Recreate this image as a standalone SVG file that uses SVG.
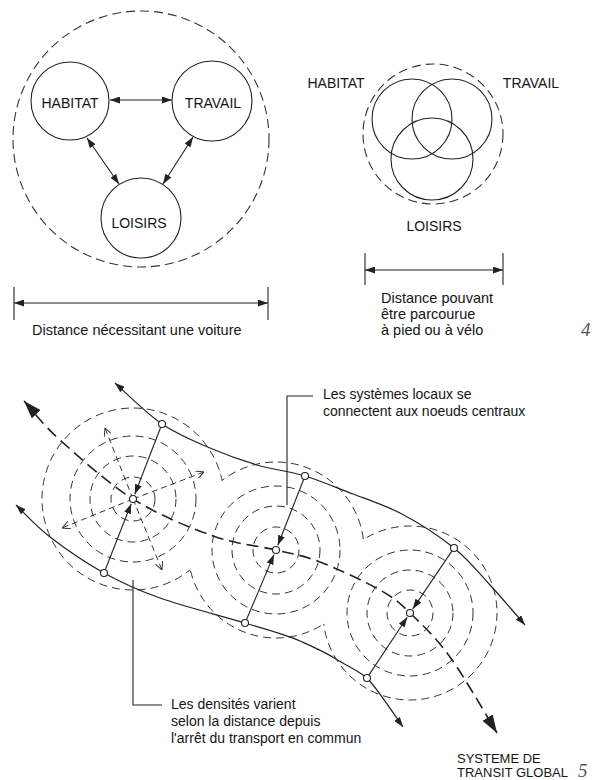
<svg xmlns="http://www.w3.org/2000/svg" width="594" height="780" viewBox="0 0 594 780">
<style>
  .bg { fill: #ffffff; }
  .txt { font-family: "Liberation Sans", Arial, sans-serif; font-size: 14px; fill: #151515; }
  .txt2 { font-family: "Liberation Sans", Arial, sans-serif; font-size: 14.5px; fill: #151515; }
  .txt3 { font-family: "Liberation Sans", Arial, sans-serif; font-size: 13px; fill: #151515; }
  .lbl { font-family: "Liberation Sans", Arial, sans-serif; font-size: 14px; fill: #151515; text-anchor: middle; }
  .num { font-family: "Liberation Serif", "Times New Roman", serif; font-style: italic; font-size: 19px; fill: #555; }
  .node { fill: #fff; stroke: #222; stroke-width: 1.1; }
  .dashc { fill: none; stroke: #333; stroke-width: 1.1; stroke-dasharray: 9 5; }
  .ring { fill: none; stroke: #333; stroke-width: 1; stroke-dasharray: 8 5; }
  .line { fill: none; stroke: #222; stroke-width: 1.1; }
  .curve { fill: none; stroke: #222; stroke-width: 1.2; }
  .transit { fill: none; stroke: #222; stroke-width: 1.6; stroke-dasharray: 12 6; }
  .radial { fill: none; stroke: #333; stroke-width: 1; stroke-dasharray: 6 4; }
  .stop { fill: #fff; stroke: #222; stroke-width: 1.1; }
</style>
<defs>
  <marker id="ah" viewBox="0 0 10 7" refX="10" refY="3.5" markerWidth="10" markerHeight="7" markerUnits="userSpaceOnUse" orient="auto-start-reverse">
    <path d="M0,0 L10,3.5 L0,7 z" fill="#222"/>
  </marker>
  <marker id="ahBig" viewBox="0 0 18 12" refX="18" refY="6" markerWidth="18" markerHeight="12" markerUnits="userSpaceOnUse" orient="auto-start-reverse">
    <path d="M0,0 L18,6 L0,12 z" fill="#222"/>
  </marker>
  <marker id="ahOpen" viewBox="0 0 8 8" refX="8" refY="4" markerWidth="8" markerHeight="8" markerUnits="userSpaceOnUse" orient="auto">
    <path d="M0,0 L8,4 L0,8" fill="none" stroke="#333" stroke-width="1"/>
  </marker>
  <mask id="m1" maskUnits="userSpaceOnUse" x="0" y="0" width="594" height="780">
    <rect x="0" y="0" width="594" height="780" fill="#fff"/>
    <circle cx="276" cy="550" r="88" fill="#000"/>
  </mask>
  <mask id="m2" maskUnits="userSpaceOnUse" x="0" y="0" width="594" height="780">
    <rect x="0" y="0" width="594" height="780" fill="#fff"/>
    <circle cx="133" cy="499" r="91" fill="#000"/>
    <circle cx="410" cy="613" r="87" fill="#000"/>
  </mask>
  <mask id="m3" maskUnits="userSpaceOnUse" x="0" y="0" width="594" height="780">
    <rect x="0" y="0" width="594" height="780" fill="#fff"/>
    <circle cx="276" cy="550" r="88" fill="#000"/>
  </mask>
</defs>
<rect class="bg" x="0" y="0" width="594" height="780"/>

<!-- ===== Figure 4, left: car-dependent ===== -->
<g id="fig4-left">
  <circle id="zone-voiture" class="dashc" cx="141" cy="139" r="128"/>
  <g id="habitat-l"><circle class="node" cx="70" cy="101" r="39"/><text class="lbl" x="70" y="108">HABITAT</text></g>
  <g id="travail-l"><circle class="node" cx="212" cy="101" r="40"/><text class="lbl" x="213" y="108">TRAVAIL</text></g>
  <g id="loisirs-l"><circle class="node" cx="141" cy="218" r="40"/><text class="lbl" x="139" y="228">LOISIRS</text></g>
  <g id="connectors-left">
    <line class="line" x1="110" y1="100" x2="172" y2="100" marker-start="url(#ah)" marker-end="url(#ah)"/>
    <line class="line" x1="87" y1="138" x2="119" y2="184" marker-start="url(#ah)" marker-end="url(#ah)"/>
    <line class="line" x1="193" y1="137" x2="163" y2="184" marker-start="url(#ah)" marker-end="url(#ah)"/>
  </g>
  <g id="dim-voiture">
    <line class="line" x1="14" y1="287" x2="14" y2="320"/>
    <line class="line" x1="268" y1="287" x2="268" y2="320"/>
    <line class="line" x1="14" y1="303" x2="268" y2="303" marker-start="url(#ah)" marker-end="url(#ah)"/>
    <text class="txt2" x="32" y="335">Distance nécessitant une voiture</text>
  </g>
</g>

<!-- ===== Figure 4, right: walkable ===== -->
<g id="fig4-right">
  <circle id="zone-pied" class="dashc" cx="433" cy="134" r="70"/>
  <g id="habitat-r"><circle class="line" cx="412" cy="119" r="40"/><text class="lbl" x="336" y="88">HABITAT</text></g>
  <g id="travail-r"><circle class="line" cx="452" cy="119" r="40"/><text class="lbl" x="531" y="88">TRAVAIL</text></g>
  <g id="loisirs-r"><circle class="line" cx="432" cy="159" r="41"/><text class="lbl" x="434" y="231">LOISIRS</text></g>
  <g id="dim-pied">
    <line class="line" x1="365" y1="253" x2="365" y2="285"/>
    <line class="line" x1="503" y1="253" x2="503" y2="285"/>
    <line class="line" x1="365" y1="270" x2="503" y2="270" marker-start="url(#ah)" marker-end="url(#ah)"/>
    <text class="txt2" x="381" y="303">Distance pouvant</text>
    <text class="txt2" x="381" y="319">être parcourue</text>
    <text class="txt2" x="381" y="335">à pied ou à vélo</text>
  </g>
  <text class="num" x="581" y="336">4</text>
</g>

<!-- ===== Figure 5 ===== -->
<g id="fig5">
  <g id="pole1">
    <circle class="ring" cx="133" cy="499" r="91" mask="url(#m1)"/>
    <circle class="ring" cx="133" cy="499" r="63"/>
    <circle class="ring" cx="133" cy="499" r="43"/>
    <circle class="ring" cx="133" cy="499" r="22"/>
    <g id="radial-arrows">
      <line class="radial" x1="133" y1="499" x2="105" y2="428" marker-end="url(#ahOpen)"/>
      <line class="radial" x1="133" y1="499" x2="204" y2="472" marker-end="url(#ahOpen)"/>
      <line class="radial" x1="133" y1="499" x2="62" y2="528" marker-end="url(#ahOpen)"/>
      <line class="radial" x1="133" y1="499" x2="162" y2="570" marker-end="url(#ahOpen)"/>
    </g>
  </g>
  <g id="pole2">
    <circle class="ring" cx="276" cy="550" r="88" mask="url(#m2)"/>
    <circle class="ring" cx="276" cy="550" r="64"/>
    <circle class="ring" cx="276" cy="550" r="44"/>
    <circle class="ring" cx="276" cy="550" r="23"/>
  </g>
  <g id="pole3">
    <circle class="ring" cx="410" cy="613" r="87" mask="url(#m3)"/>
    <circle class="ring" cx="410" cy="613" r="63"/>
    <circle class="ring" cx="410" cy="613" r="43"/>
    <circle class="ring" cx="410" cy="613" r="23"/>
  </g>

  <g id="connectors">
    <path class="transit" marker-start="url(#ahBig)" marker-end="url(#ahBig)"
      d="M24,401 C30,407.5 41.8,423.7 60,440 C78.2,456.3 107.5,483 133,499 C158.5,515 189.2,527.5 213,536 C236.8,544.5 258.2,545.7 276,550 C293.8,554.3 302.7,555.3 320,562 C337.3,568.7 365,581.5 380,590 C395,598.5 398.3,601.8 410,613 C421.7,624.2 435.5,637 450,657 C464.5,677 489.2,720.3 497,733"/>
    <path class="curve" marker-start="url(#ah)" marker-end="url(#ah)"
      d="M115,383 C122.8,389.8 146.2,413.2 162,424 C177.8,434.8 194.2,441.2 210,448 C225.8,454.8 241.2,460.3 257,465 C272.8,469.7 289,471 305,476 C321,481 337.2,488 353,494 C368.8,500 384,505 400,513 C416.8,521.8 439,535.8 454,548 C469,560.2 478.2,572.2 490,585 C501.8,597.8 519.2,618.3 525,625"/>
    <path class="curve" marker-start="url(#ah)" marker-end="url(#ah)"
      d="M16,505 C21.7,510.3 35.3,525.7 50,537 C64.7,548.3 85.7,562.8 104,573 C122.3,583.2 136.5,589.7 160,598 C183.5,606.3 221.7,616 245,623 C268.3,630 285,634.3 300,641 C315,647.7 325,652 336,659 C347,666 357,670 367,678 C378.3,689.7 397,718.8 403,727"/>
    <line class="line" x1="160.7" y1="427.3" x2="134.8" y2="494.3" marker-end="url(#ah)"/>
    <line class="line" x1="105.3" y1="569.7" x2="131.2" y2="503.7" marker-end="url(#ah)"/>
    <line class="line" x1="303.7" y1="479.3" x2="277.8" y2="545.3" marker-end="url(#ah)"/>
    <line class="line" x1="246.4" y1="619.8" x2="274" y2="554.6" marker-end="url(#ah)"/>
    <line class="line" x1="452" y1="550.9" x2="412.8" y2="608.9" marker-end="url(#ah)"/>
    <line class="line" x1="368.9" y1="675.1" x2="407.2" y2="617.2" marker-end="url(#ah)"/>
    <polyline class="line" points="287,505 287,396 313,396"/>
    <polyline class="line" points="133,580 133,705 162,705"/>
  </g>

  <g id="stops">
    <circle id="stop-c1" class="stop" cx="133" cy="499" r="3.5"/>
    <circle id="stop-c2" class="stop" cx="276" cy="550" r="3.5"/>
    <circle id="stop-c3" class="stop" cx="410" cy="613" r="3.5"/>
    <circle class="stop" cx="162" cy="424" r="3.5"/>
    <circle class="stop" cx="104" cy="573" r="3.5"/>
    <circle class="stop" cx="305" cy="476" r="3.5"/>
    <circle class="stop" cx="245" cy="623" r="3.5"/>
    <circle class="stop" cx="454" cy="548" r="3.5"/>
    <circle class="stop" cx="367" cy="678" r="3.5"/>
  </g>

  <g id="label-locaux">
    <text class="txt" x="323" y="399">Les systèmes locaux se</text>
    <text class="txt" x="323" y="416">connectent aux noeuds centraux</text>
  </g>
  <g id="label-densites">
    <text class="txt" x="171" y="709">Les densités varient</text>
    <text class="txt" x="171" y="726">selon la distance depuis</text>
    <text class="txt" x="171" y="743">l'arrêt du transport en commun</text>
  </g>
  <g id="label-transit">
    <text class="txt3" x="457" y="763">SYSTEME DE</text>
    <text class="txt3" x="457" y="777">TRANSIT GLOBAL</text>
  </g>
  <text class="num" x="578" y="777">5</text>
</g>
</svg>
